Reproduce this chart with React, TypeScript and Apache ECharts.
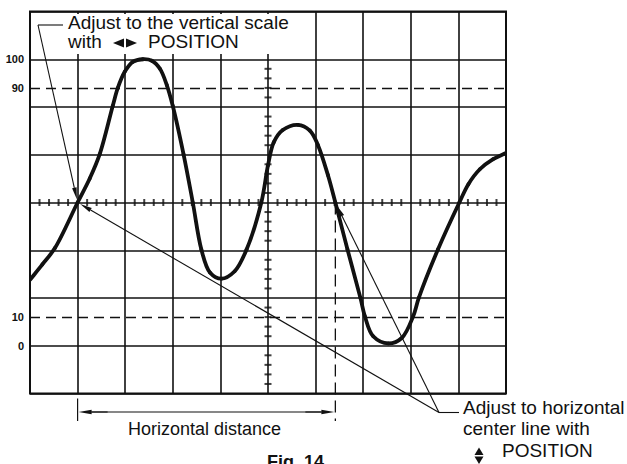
import React, { useEffect, useRef } from "react";
import * as echarts from "echarts";

// Waveform trace: x in graticule divisions, y in percent of the 0–100 amplitude scale
const xDiv = [0, 0.26, 0.52, 1.0, 1.255, 1.465, 1.738, 1.845, 1.99, 2.16, 2.37, 2.56, 2.73, 2.874, 3.0, 3.225, 3.42, 3.6, 3.78, 4.02, 4.3, 4.55, 4.86, 5.0, 5.12, 5.31, 5.63, 5.88, 6.05, 6.26, 6.415, 6.67, 6.94, 7.035, 7.21, 7.53, 7.81, 8.05, 8.17, 8.57, 9.02, 9.21, 9.45, 9.73, 10];
const yPct = [23, 28.4, 34, 50, 58.4, 66.9, 83.7, 90, 95.6, 99.1, 100, 99.5, 96.7, 91, 83.7, 66.9, 50, 33.6, 25.6, 23.4, 26, 33.6, 50, 63, 71, 75.3, 77.1, 75.1, 70, 59.5, 50, 33.6, 16.8, 10.3, 3.3, 0.8, 2.7, 10.3, 16.8, 33.6, 50, 56.4, 61.6, 65.1, 67.3];

// Amplitude scale labels
const levelPct = [0, 10, 90, 100];
const levelLabels = ["0", "10", "90", "100"];
const dashedLevels = [10, 90];

// Points where the trace crosses the horizontal centre line
const crossA = [1.0, 50];
const crossB = [6.415, 50];

// Graticule
const X_DIVS = 10;
const Y_DIVS = 8;
const ZERO_DIV = 1;
const FULL_DIVS = 6;
const SUBDIV = 5;
const X_CENTER = 5;
const Y_CENTER = 4;

const toDiv = (p: number) => ZERO_DIV + (p * FULL_DIVS) / 100;

const FONT = "'Liberation Sans', Arial, Helvetica, sans-serif";
const INK = "#111";

function arrow(x1: number, y1: number, x2: number, y2: number, len = 12, half = 2.3) {
  const dx = x2 - x1;
  const dy = y2 - y1;
  const L = Math.hypot(dx, dy);
  const ux = dx / L;
  const uy = dy / L;
  const bx = x2 - ux * len;
  const by = y2 - uy * len;
  return [
    { type: "line", z: 20, shape: { x1, y1, x2: bx, y2: by }, style: { stroke: INK, lineWidth: 1.1 } },
    {
      type: "polygon",
      z: 20,
      shape: { points: [[x2, y2], [bx - uy * half, by + ux * half], [bx + uy * half, by - ux * half]] },
      style: { fill: INK },
    },
  ];
}

function txt(text: string, x: number, y: number, size = 19, weight: any = "normal", va = "middle") {
  return {
    type: "text",
    z: 21,
    x,
    y,
    style: {
      text,
      fill: INK,
      font: `${weight} ${size}px ${FONT}`,
      textAlign: "left",
      textVerticalAlign: va,
      verticalAlign: va,
    },
  };
}

// centripetal Catmull-Rom control points between p1 and p2
function crControls(p0: number[], p1: number[], p2: number[], p3: number[]) {
  const a = 0.5;
  const d1 = Math.max(Math.pow(Math.hypot(p1[0] - p0[0], p1[1] - p0[1]), a), 1e-6);
  const d2 = Math.max(Math.pow(Math.hypot(p2[0] - p1[0], p2[1] - p1[1]), a), 1e-6);
  const d3 = Math.max(Math.pow(Math.hypot(p3[0] - p2[0], p3[1] - p2[1]), a), 1e-6);
  const c1: number[] = [];
  const c2: number[] = [];
  for (let k = 0; k < 2; k++) {
    c1[k] = (d1 * d1 * p2[k] - d2 * d2 * p0[k] + (2 * d1 * d1 + 3 * d1 * d2 + d2 * d2) * p1[k]) / (3 * d1 * (d1 + d2));
    c2[k] = (d3 * d3 * p1[k] - d2 * d2 * p3[k] + (2 * d3 * d3 + 3 * d3 * d2 + d2 * d2) * p2[k]) / (3 * d3 * (d3 + d2));
  }
  return [c1, c2];
}

export default function App() {
  const ref = useRef<HTMLDivElement>(null);

  useEffect(() => {
    if (!ref.current) return;
    const chart = echarts.init(ref.current, undefined, { renderer: "svg" });

    const hTicks: number[][] = [];
    for (let k = 1; k < X_DIVS * SUBDIV; k++) {
      if (k % SUBDIV !== 0) hTicks.push([k / SUBDIV, Y_CENTER]);
    }
    const vTicks: number[][] = [];
    for (let k = 1; k < Y_DIVS * SUBDIV; k++) {
      if (k % SUBDIV !== 0) vTicks.push([X_CENTER, k / SUBDIV]);
    }

    const traceData = xDiv.map((x, i) => [x, toDiv(yPct[i])]);
    const n = traceData.length;

    const option: any = {
      animation: false,
      backgroundColor: "#fff",
      grid: {
        left: 30,
        top: 11.5,
        width: 476,
        height: 382,
        show: true,
        borderColor: INK,
        borderWidth: 2,
        backgroundColor: "transparent",
      },
      xAxis: {
        type: "value",
        min: 0,
        max: X_DIVS,
        interval: 1,
        axisLine: { show: false },
        axisTick: { show: false },
        axisLabel: { show: false },
        splitLine: { show: true, lineStyle: { color: INK, width: 1.6 } },
      },
      yAxis: {
        type: "value",
        min: 0,
        max: Y_DIVS,
        interval: 1,
        axisLine: { show: false },
        axisTick: { show: false },
        axisLabel: {
          show: true,
          customValues: levelPct.map(toDiv),
          formatter: (v: number) => {
            const i = levelPct.findIndex((p) => Math.abs(toDiv(p) - v) < 1e-6);
            return i >= 0 ? levelLabels[i] : "";
          },
          fontSize: 11,
          fontWeight: "bold",
          fontFamily: FONT,
          color: INK,
          margin: 6,
        },
        splitLine: { show: true, lineStyle: { color: INK, width: 1.6 } },
      },
      series: [
        {
          type: "custom",
          data: traceData,
          z: 5,
          clip: true,
          renderItem: (params: any, api: any) => {
            const i = params.dataIndex;
            if (i >= n - 1) return null;
            const P = (j: number) => api.coord(traceData[j]) as number[];
            const p1 = P(i);
            const p2 = P(i + 1);
            const p0 = i > 0 ? P(i - 1) : [2 * p1[0] - p2[0], 2 * p1[1] - p2[1]];
            const p3 = i + 2 < n ? P(i + 2) : [2 * p2[0] - p1[0], 2 * p2[1] - p1[1]];
            const [c1, c2] = crControls(p0, p1, p2, p3);
            return {
              type: "bezierCurve",
              shape: { x1: p1[0], y1: p1[1], cpx1: c1[0], cpy1: c1[1], cpx2: c2[0], cpy2: c2[1], x2: p2[0], y2: p2[1] },
              style: { stroke: INK, lineWidth: 3.8, fill: null, lineCap: "round" },
            };
          },
          markLine: {
            silent: true,
            symbol: ["none", "none"],
            label: { show: false },
            lineStyle: { color: INK, width: 1.4, type: [10, 6] },
            data: dashedLevels.map((p) => ({ yAxis: toDiv(p) })),
          },
        },
        {
          type: "scatter",
          data: hTicks,
          symbol: "rect",
          symbolSize: [2, 7],
          itemStyle: { color: INK },
          z: 3,
        },
        {
          type: "scatter",
          data: vTicks,
          symbol: "rect",
          symbolSize: [7, 2],
          itemStyle: { color: INK },
          z: 3,
        },
      ],
    };
    chart.setOption(option);

    const pA = chart.convertToPixel({ gridIndex: 0 }, [crossA[0], toDiv(crossA[1])]) as number[];
    const pB = chart.convertToPixel({ gridIndex: 0 }, [crossB[0], toDiv(crossB[1])]) as number[];
    const pBottom = chart.convertToPixel({ gridIndex: 0 }, [0, 0]) as number[];
    const gridBottom = pBottom[1];

    const topJoin = [38, 25];
    const botJoin = [439, 412.5];
    const distY = 412;

    const tipToward = (from: number[], to: number[], back: number) => {
      const dx = to[0] - from[0];
      const dy = to[1] - from[1];
      const L = Math.hypot(dx, dy);
      return [to[0] - (dx / L) * back, to[1] - (dy / L) * back];
    };
    const t1 = tipToward(topJoin, pA, 3);
    const t2 = tipToward(botJoin, pA, 3);
    const t3 = tipToward(botJoin, pB, 3);

    const graphic: any[] = [
      // white patch behind the top callout
      { type: "rect", z: 10, shape: { x: 64, y: 14, width: 236, height: 40 }, style: { fill: "#fff" } },
      txt("Adjust to the vertical scale", 68, 22.5),
      txt("with", 68, 41.5),
      {
        type: "polygon",
        z: 21,
        shape: { points: [[113, 43], [124, 38.5], [124, 47.5]] },
        style: { fill: INK },
      },
      {
        type: "polygon",
        z: 21,
        shape: { points: [[137, 43], [126, 38.5], [126, 47.5]] },
        style: { fill: INK },
      },
      txt("POSITION", 148, 41.5),
      { type: "line", z: 20, shape: { x1: topJoin[0], y1: topJoin[1], x2: 63, y2: topJoin[1] }, style: { stroke: INK, lineWidth: 1.1 } },
      ...arrow(topJoin[0], topJoin[1], t1[0], t1[1]),
      ...arrow(botJoin[0], botJoin[1], t2[0], t2[1]),
      ...arrow(botJoin[0], botJoin[1], t3[0], t3[1]),
      { type: "line", z: 20, shape: { x1: botJoin[0], y1: botJoin[1], x2: 459, y2: botJoin[1] }, style: { stroke: INK, lineWidth: 1.1 } },
      txt("Adjust to horizontal", 463, 407),
      txt("center line with", 463, 428.5),
      {
        type: "polygon",
        z: 21,
        shape: { points: [[479, 447.5], [474.5, 455], [483.5, 455]] },
        style: { fill: INK },
      },
      {
        type: "polygon",
        z: 21,
        shape: { points: [[474.5, 456.5], [483.5, 456.5], [479, 464]] },
        style: { fill: INK },
      },
      txt("POSITION", 502, 450),
      // horizontal distance marker
      { type: "line", z: 20, shape: { x1: pA[0], y1: gridBottom + 5, x2: pA[0], y2: 421 }, style: { stroke: INK, lineWidth: 1.2 } },
      {
        type: "line",
        z: 20,
        shape: { x1: pB[0], y1: pB[1], x2: pB[0], y2: 421 },
        style: { stroke: INK, lineWidth: 1.3, lineDash: [12, 6] },
      },
      { type: "line", z: 20, shape: { x1: pA[0] + 12, y1: distY, x2: pB[0] - 12, y2: distY }, style: { stroke: INK, lineWidth: 1.1 } },
      ...arrow(pA[0] + 30, distY, pA[0] + 1, distY, 13, 2.2),
      ...arrow(pB[0] - 30, distY, pB[0] - 1, distY, 13, 2.2),
      txt("Horizontal distance", 128, 429, 18),
      txt("Fig. 14", 267, 453, 18, "bold", "top"),
    ];
    chart.setOption({ graphic });

    return () => chart.dispose();
  }, []);

  return (
    <div
      ref={ref}
      style={{ position: "fixed", left: 0, top: 0, width: 627, height: 464, background: "#fff" }}
    />
  );
}
